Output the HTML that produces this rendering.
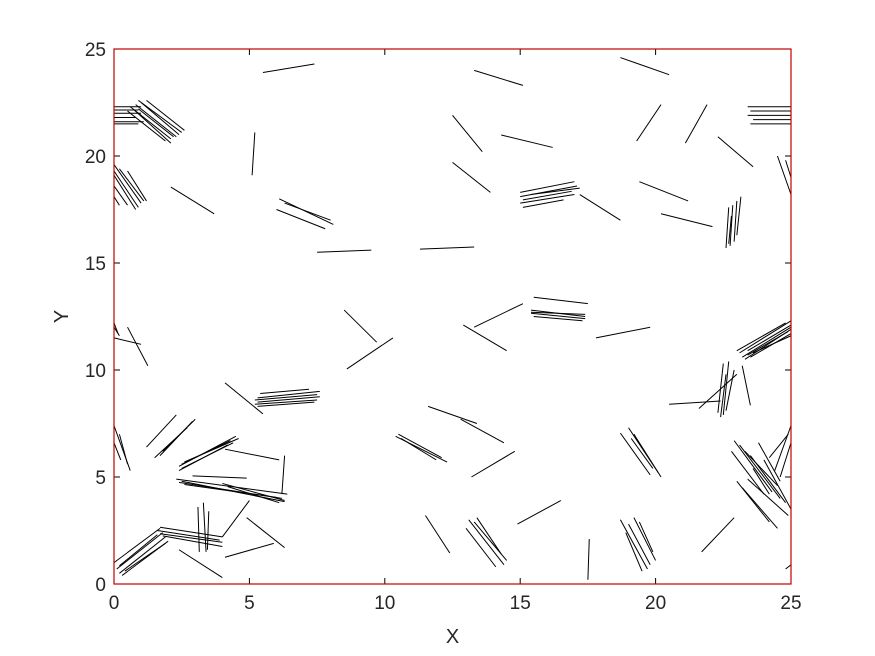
<!DOCTYPE html>
<html><head><meta charset="utf-8"><style>
body{margin:0;background:#fff;}
svg{display:block;font-family:"Liberation Sans",sans-serif;}
</style></head><body>
<svg id="chart" width="875" height="656" viewBox="0 0 875 656">
<rect x="0" y="0" width="875" height="656" fill="#fff"/>
<g id="segs"></g>
<g id="axes"></g>
</svg>
<script>
const xTicks=[0,5,10,15,20,25];
const yTicks=[0,5,10,15,20,25];
const xLabel="X", yLabel="Y";
// segments: [x1,y1,x2,y2] in data units
const segments=[
[0,22.3,1.0,22.3],[0,22.15,0.9,22.15],[0,22.0,1.0,22.0],[0,21.8,0.8,21.8],[0,21.6,1.1,21.6],[0,21.5,0.9,21.5],
[0.9,22.6,2.5,21.1],[0.8,22.4,2.3,20.9],[1.0,22.5,2.4,21.0],[0.6,22.3,2.1,20.8],[0.7,22.2,2.1,20.6],[1.2,22.6,2.6,21.2],[0.5,22.1,1.9,20.7],[0.9,22.2,2.2,20.9],
[23.4,22.3,25,22.3],[23.5,22.1,25,22.1],[23.4,21.9,25,21.9],[23.6,21.7,25,21.7],[23.5,21.5,25,21.5],
[5.5,23.9,7.4,24.3],[13.3,24.0,15.1,23.3],[18.7,24.6,20.5,23.8],
[5.2,21.1,5.1,19.1],[12.5,21.9,13.6,20.2],[14.3,20.98,16.2,20.4],[19.3,20.7,20.2,22.4],[21.1,20.6,21.9,22.4],[22.3,20.9,23.6,19.5],
[0,19.6,1.0,17.8],[0,19.3,0.9,17.6],[0,19.1,0.8,17.5],[0.2,19.4,1.1,17.9],[0,18.6,0.5,17.7],[0.5,19.3,1.2,17.9],[0,18.1,0.2,17.7],
[2.1,18.55,3.7,17.3],[12.5,19.7,13.9,18.3],
[15.0,18.3,17.0,18.8],[15.0,18.1,17.1,18.6],[15.1,17.95,16.9,18.35],[15.0,17.8,17.0,18.2],[15.1,17.6,16.6,17.95],[15.4,18.2,17.2,18.5],
[17.2,18.2,18.7,17.0],[19.4,18.8,21.2,17.9],[20.2,17.3,22.1,16.7],
[22.7,17.6,22.6,15.7],[22.85,17.7,22.75,15.8],[23.0,17.9,22.9,16.0],[23.15,18.1,23.0,16.3],[22.8,17.2,22.7,15.9],
[24.5,20.0,25,18.2],[24.8,19.8,25,19.0],
[6.1,18.0,8.1,16.8],[6.3,17.8,8.0,17.0],[6.0,17.5,7.8,16.6],
[7.5,15.5,9.5,15.6],[11.3,15.65,13.3,15.75],
[15.5,13.4,17.5,13.1],[15.4,12.8,17.4,12.5],[15.4,12.65,17.4,12.4],[15.5,12.5,17.3,12.3],[15.4,12.7,17.4,12.6],
[17.8,11.5,19.8,12.0],[13.3,12.0,15.1,13.1],[12.9,12.1,14.5,10.9],[8.5,12.8,9.7,11.3],[8.6,10.05,10.3,11.5],
[0,11.5,1.0,11.2],[0.5,12.0,1.25,10.2],[0,12.2,0.15,11.7],[0,12.0,0.2,11.6],
[4.1,9.4,5.5,7.95],
[5.3,8.7,7.6,9.0],[5.2,8.6,7.5,8.85],[5.3,8.5,7.6,8.75],[5.2,8.4,7.5,8.6],[5.3,8.3,7.4,8.5],[5.4,8.9,7.2,9.1],
[20.5,8.4,22.4,8.55],[21.6,8.2,23.0,9.8],
[22.5,10.3,22.3,8.0],[22.7,10.4,22.5,7.9],[22.9,10.0,22.6,8.1],[22.6,9.8,22.4,7.8],
[23.2,10.2,23.5,8.35],
[23.1,10.8,25,12.3],[23.2,10.6,25,12.0],[23.3,10.5,25,11.9],[23.4,10.9,25,12.1],[23.5,10.6,25,11.7],[23.0,10.9,24.8,12.2],[23.6,10.8,25,11.6],[23.4,10.7,24.9,11.8],
[22.9,6.7,24.3,4.3],[23.1,6.5,24.6,4.0],[23.3,6.2,24.5,4.6],[23.5,6.0,24.8,3.8],[22.8,6.2,24.0,4.2],[23.0,4.8,24.2,2.9],[23.2,4.5,24.5,2.6],[23.4,4.9,24.9,3.2],[23.8,6.6,24.6,4.8],[24.0,5.8,25,3.5],[23.6,5.4,24.2,4.2],
[24.4,5.3,25,7.4],[24.6,5.0,25,6.6],[24.2,5.9,24.9,7.0],
[0,7.4,0.6,5.3],[0.2,7.0,0.5,5.6],[0,6.6,0.25,5.8],
[1.2,6.4,2.3,7.9],[1.7,6.0,2.9,7.6],[1.8,6.2,3.0,7.7],[1.5,5.9,2.7,7.3],
[2.4,5.5,4.5,6.9],[2.5,5.4,4.4,6.6],[2.4,5.3,4.2,6.5],[2.6,5.7,4.6,6.8],[2.5,5.6,4.3,6.7],
[2.3,4.9,6.4,4.2],[2.4,4.75,6.2,4.0],[2.5,4.8,6.3,3.85],[2.6,4.65,6.0,4.05],[4.0,4.7,6.3,3.9],[4.2,4.55,6.1,3.8],
[2.9,5.05,4.9,4.95],[4.1,6.3,6.1,5.8],[6.3,6.0,6.2,4.2],
[4.0,2.2,5.0,3.9],[4.9,3.1,6.3,1.7],[4.1,1.25,5.9,1.9],[2.4,1.6,4.0,0.3],
[0,1.0,1.7,2.6],[0.1,0.7,1.8,2.4],[0.2,0.5,1.9,2.2],[0.3,0.4,2.0,2.0],[0.2,0.85,1.6,2.3],[0.4,0.6,1.9,1.9],
[1.7,2.65,4.0,2.2],[1.6,2.5,3.9,2.05],[1.7,2.35,4.0,1.95],[1.8,2.25,4.0,1.75],
[3.1,3.6,3.15,1.5],[3.3,3.8,3.4,1.5],[3.5,3.4,3.45,1.6],
[10.4,6.9,12.3,5.7],[10.5,7.0,12.1,5.9],[10.6,6.8,11.9,5.8],
[11.6,8.3,13.4,7.5],[12.8,7.7,14.4,6.6],[13.2,5.0,14.8,6.2],[11.5,3.2,12.4,1.45],
[13.1,3.0,14.4,0.9],[13.3,2.9,14.5,1.1],[13.0,2.6,14.1,0.8],[13.4,3.1,14.3,1.4],
[14.9,2.8,16.5,3.9],[17.55,2.1,17.5,0.2],
[18.7,7.05,19.8,5.1],[19.0,7.3,20.1,5.2],[19.2,7.0,20.2,5.0],[19.1,6.8,19.9,5.4],
[18.7,3.0,19.7,0.7],[19.0,2.8,19.8,0.9],[19.2,3.1,20.0,1.1],[19.4,2.9,19.9,1.5],[18.9,2.4,19.5,0.6],
[21.7,1.5,22.9,3.1],[24.8,0.7,25,0.9]
];
const X0=114,X1=791,Y0=584,Y1=49;
const sx=v=>X0+(v-0)/(25-0)*(X1-X0);
const sy=v=>Y0-(v-0)/(25-0)*(Y0-Y1);
const NS="http://www.w3.org/2000/svg";
const sg=document.getElementById('segs');
segments.forEach((s,i)=>{
  const l=document.createElementNS(NS,'line');
  l.setAttribute('x1',sx(s[0]));l.setAttribute('y1',sy(s[1]));
  l.setAttribute('x2',sx(s[2]));l.setAttribute('y2',sy(s[3]));
  l.setAttribute('stroke','#000');l.setAttribute('stroke-width','1');
  
  
  sg.appendChild(l);
});
const ax=document.getElementById('axes');
function add(tag,attrs,txt){const e=document.createElementNS(NS,tag);for(const k in attrs)e.setAttribute(k,attrs[k]);if(txt!==undefined)e.textContent=txt;ax.appendChild(e);return e;}
xTicks.forEach(t=>{
  const x=sx(t);
  const tk=add('line',{x1:x,y1:Y0,x2:x,y2:Y0-6,stroke:'#000'});
  
  
  const tk2=add('line',{x1:x,y1:Y1,x2:x,y2:Y1+6,stroke:'#000'});
  
  
  const lb=add('text',{x:x,y:Y0+25,'text-anchor':'middle','font-size':'19',fill:'#262626'},String(t));
  
  
});
yTicks.forEach(t=>{
  const y=sy(t);
  const tk=add('line',{x1:X0,y1:y,x2:X0+6,y2:y,stroke:'#000'});
  
  
  const tk2=add('line',{x1:X1,y1:y,x2:X1-6,y2:y,stroke:'#000'});
  
  
  const lb=add('text',{x:X0-8,y:y+7,'text-anchor':'end','font-size':'19',fill:'#262626'},String(t));
  
  
});
const box=add('rect',{x:X0,y:Y1,width:X1-X0,height:Y0-Y1,fill:'none',stroke:'#c00000','stroke-width':'1.2'});


const xl=add('text',{x:(X0+X1)/2,y:643,'text-anchor':'middle','font-size':'20',fill:'#262626'},xLabel);


const yl=add('text',{x:68,y:(Y0+Y1)/2,'text-anchor':'middle','font-size':'20',fill:'#262626',transform:'rotate(-90 68 '+((Y0+Y1)/2)+')'},yLabel);


</script>
</body></html>
